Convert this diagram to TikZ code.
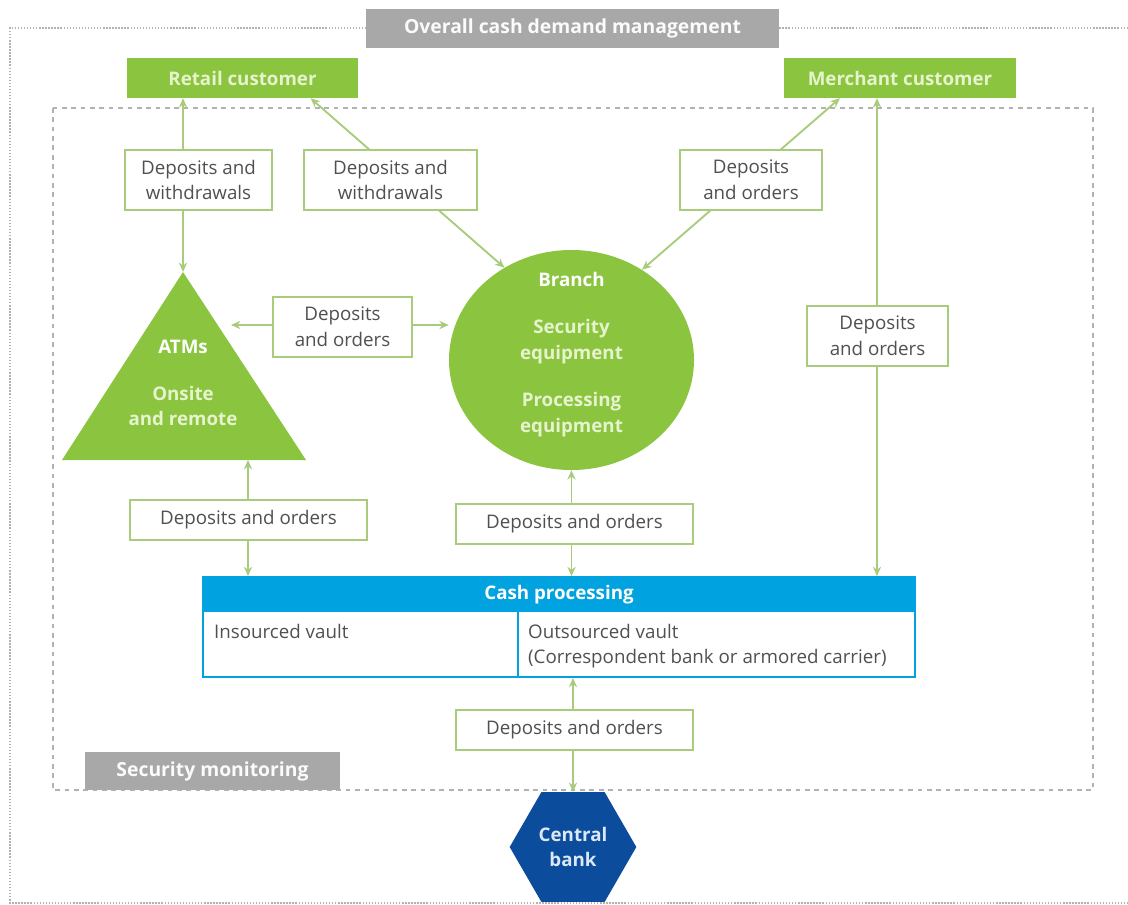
\documentclass[tikz,border=0pt]{standalone}
\usepackage{fontspec}
\setmainfont{Open Sans}
\usetikzlibrary{shapes.geometric,arrows.meta}

\definecolor{dgreen}{HTML}{8BC43F}
\definecolor{lgreen}{HTML}{A8CB7C}
\definecolor{pale}{HTML}{E6F4CE}
\definecolor{dblue}{HTML}{00A3E0}
\definecolor{nblue}{HTML}{0C4C9C}
\definecolor{hexc}{HTML}{DCE8F6}
\definecolor{frame}{HTML}{B2B2B2}
\definecolor{gbox}{HTML}{A8A8A8}
\definecolor{txt}{HTML}{505050}

\begin{document}
\begin{tikzpicture}[x=0.03cm,y=-0.03cm,font=\fontsize{16}{22}\selectfont,
    lbl/.style={draw=lgreen,line width=1.2pt,fill=white,text=txt,align=center,inner sep=0pt},
    lbla/.style={lbl,minimum height=1.8cm},
    lblb/.style={lbl,minimum height=1.2cm,minimum width=7.11cm},
    gbx/.style={fill=gbox,text=white!95!gbox,font=\fontsize{16.5}{22}\selectfont\bfseries,inner sep=0pt,minimum height=1.15cm},
    cbx/.style={fill=dgreen,text=pale,font=\fontsize{16}{22}\selectfont\bfseries,inner sep=0pt,minimum height=1.2cm,minimum width=6.95cm},
    flow/.style={draw=lgreen,line width=1.6pt,{Stealth[length=8pt,width=7pt]}-{Stealth[length=8pt,width=7pt]}}]
\useasboundingbox (0,0) rectangle (1128,905);

% frames
\draw[frame,line width=1.5pt,dash pattern=on 1.2pt off 1.4pt]
    (1128,28) -- (10,28) -- (10,903) -- (1128,903);
\draw[frame,line width=1.5pt,dash pattern=on 4pt off 4pt] (53,108) rectangle (1093,790);

\node[gbx,minimum width=12.39cm] (overall) at (572.5,28.5) {Overall cash demand management};
\node[gbx,minimum width=7.65cm] (secmon) at (212.5,771) {Security monitoring};
\node[cbx] (retail) at (242.5,78) {Retail customer};
\node[cbx] (merchant) at (900,78) {Merchant customer};

% ATMs
\coordinate (atmtop) at (183,272);
\coordinate (atmbase) at (248,460);
\coordinate (atmr) at (231,325);
\fill[dgreen] (atmtop) -- (306,460) -- (62,460) -- cycle;
\node[text=pale,align=center,font=\fontsize{16}{22}\selectfont\bfseries] (atm) at (183,383)
    {{\color{white}ATMs}\\[18pt]Onsite\\and remote};

% branch
\node[ellipse,fill=dgreen,minimum width=7.35cm,minimum height=6.6cm,inner sep=0pt] (branch) at (571.5,360) {};
\node[text=pale,align=center,font=\fontsize{16}{22}\selectfont\bfseries] (branchtxt) at (571.5,354.5)
    {{\color{white}Branch}\\[18pt]Security\\equipment\\[18pt]Processing\\equipment};

% central bank
\node[regular polygon,regular polygon sides=6,fill=nblue,minimum size=3.8cm,inner sep=0pt,
    text=hexc,align=center,font=\fontsize{16}{22}\selectfont\bfseries] (cbank) at (573,847) {Central\\bank};

% cash processing
\node[draw=dblue,line width=1.5pt,minimum width=21.36cm,minimum height=3cm,inner sep=0pt] (cash) at (559,627) {};
\node[fill=dblue,minimum width=21.36cm,minimum height=1.05cm,inner sep=0pt,text=white,
    font=\fontsize{16}{22}\selectfont\bfseries] (cashhead) at (559,594.5) {Cash processing};
\coordinate (split) at (518,612);
\draw[dblue,line width=1.5pt] (split) -- (split |- cash.south);
\node[anchor=west,text=txt] (insrc) at (210,631) {Insourced vault};
\node[anchor=west,text=txt] (outsrc) at (524,631) {Outsourced vault};
\node[anchor=west,text=txt] (corr) at (524,659) {(Correspondent bank or armored carrier)};

% connectors
\draw[flow] (retail.south -| atmtop) -- (atmtop);
\draw[flow] ([xshift=-1.44cm]retail.south east) -- (branch.126);
\draw[flow] ([xshift=1.68cm]merchant.south west) -- (branch.52);
\draw[flow] (atmr) -- (branch.west |- atmr);
\draw[flow] (atmbase) -- (cash.north -| atmbase);
\draw[flow] (branch.south) -- (cash.north -| branch.south);
\coordinate (mdrop) at ([xshift=-0.69cm]merchant.south);
\draw[flow] (mdrop) -- (cash.north -| mdrop);
\draw[flow] (cbank.north |- cash.south) -- (cbank.north);

% labels
\node[lbla,minimum width=4.41cm] (dw1) at (198.5,180) {Deposits and\\withdrawals};
\node[lbla,minimum width=5.19cm] (dw2) at (390.5,180) {Deposits and\\withdrawals};
\node[lbla,minimum width=4.26cm] (do1) at (751,180) {Deposits\\and orders};
\node[lbla,minimum width=4.17cm] (do2) at (342.5,327) {Deposits\\and orders};
\node[lbla,minimum width=4.23cm] (do3) at (877.5,336) {Deposits\\and orders};
\node[lblb] (do4) at (248.5,520) {Deposits and orders};
\node[lblb] (do5) at (574.5,524) {Deposits and orders};
\node[lblb] (do6) at (574.5,730) {Deposits and orders};
\end{tikzpicture}
\end{document}
